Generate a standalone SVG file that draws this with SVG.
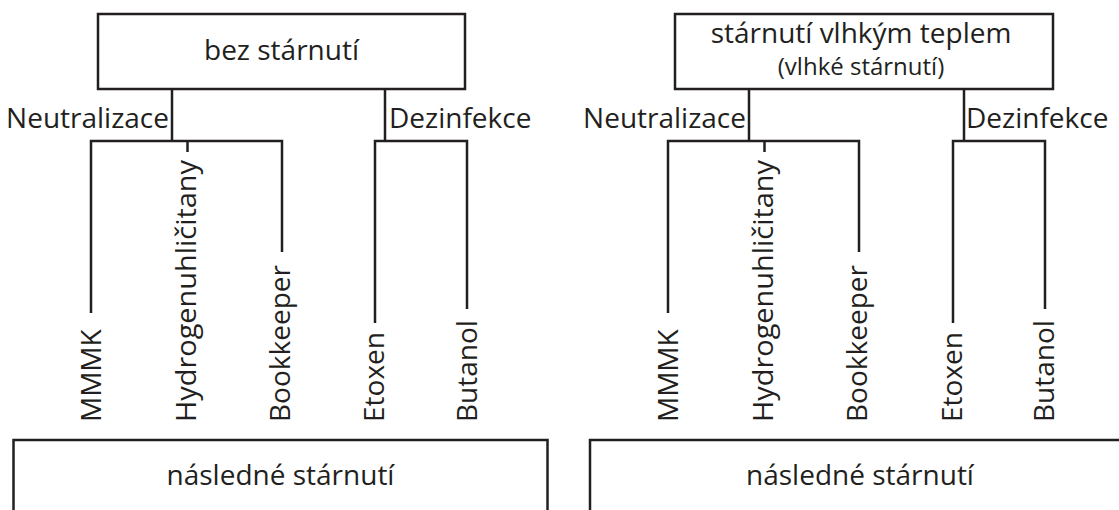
<svg xmlns="http://www.w3.org/2000/svg" width="1119" height="510" viewBox="0 0 1119 510">
  <style>
    .box { fill: #ffffff; stroke: #231f20; stroke-width: 2.5; }
    .ln { fill: none; stroke: #231f20; stroke-width: 2.5; stroke-linecap: butt; }
    .t { font-family: "Open Sans", "Noto Sans", "Liberation Sans", sans-serif; font-size: 28px; fill: #231f20; }
    .s { font-size: 24px; }
    .c { text-anchor: middle; }
    .e { text-anchor: end; }
  </style>
  <rect width="1119" height="510" fill="#ffffff"/>

  <g id="connectors">
    <!-- left half -->
    <path class="ln" d="M172 89 V141 M385 89 V141"/>
    <path class="ln" d="M91 313 V141 H282 V252 M187.5 141 V152"/>
    <path class="ln" d="M375 323 V141 H467 V309"/>
    <!-- right half -->
    <path class="ln" d="M749 89 V141 M964 89 V141"/>
    <path class="ln" d="M668 313 V141 H859 V252 M764.5 141 V152"/>
    <path class="ln" d="M953 323 V141 H1045 V309"/>
  </g>

  <g id="node-bez-starnuti">
    <rect class="box" x="98" y="14" width="367" height="75"/>
    <text class="t c" x="281.5" y="60">bez stárnutí</text>
  </g>
  <g id="node-vlhke-starnuti">
    <rect class="box" x="675" y="14" width="378" height="75"/>
    <text class="t c" x="861" y="43">stárnutí vlhkým teplem</text>
    <text class="t s c" x="861" y="75">(vlhké stárnutí)</text>
  </g>

  <g id="label-neutralizace-left"><text class="t e" x="169" y="128">Neutralizace</text></g>
  <g id="label-dezinfekce-left"><text class="t" x="389" y="128">Dezinfekce</text></g>
  <g id="label-neutralizace-right"><text class="t e" x="746" y="128">Neutralizace</text></g>
  <g id="label-dezinfekce-right"><text class="t" x="966" y="128">Dezinfekce</text></g>

  <g id="node-mmmk-left"><text class="t" transform="translate(101 422) rotate(-90)">MMMK</text></g>
  <g id="node-hydro-left"><text class="t" transform="translate(196 422) rotate(-90)" textLength="262" lengthAdjust="spacingAndGlyphs">Hydrogenuhličitany</text></g>
  <g id="node-bookkeeper-left"><text class="t" transform="translate(290 422) rotate(-90)">Bookkeeper</text></g>
  <g id="node-etoxen-left"><text class="t" transform="translate(384 422) rotate(-90)">Etoxen</text></g>
  <g id="node-butanol-left"><text class="t" transform="translate(477 422) rotate(-90)">Butanol</text></g>

  <g id="node-mmmk-right"><text class="t" transform="translate(678 422) rotate(-90)">MMMK</text></g>
  <g id="node-hydro-right"><text class="t" transform="translate(773 422) rotate(-90)" textLength="262" lengthAdjust="spacingAndGlyphs">Hydrogenuhličitany</text></g>
  <g id="node-bookkeeper-right"><text class="t" transform="translate(867 422) rotate(-90)">Bookkeeper</text></g>
  <g id="node-etoxen-right"><text class="t" transform="translate(962 422) rotate(-90)">Etoxen</text></g>
  <g id="node-butanol-right"><text class="t" transform="translate(1054 422) rotate(-90)">Butanol</text></g>

  <g id="node-nasledne-left">
    <rect class="box" x="13.5" y="440" width="534" height="90"/>
    <text class="t c" x="280.5" y="485">následné stárnutí</text>
  </g>
  <g id="node-nasledne-right">
    <rect class="box" x="590" y="440" width="540" height="90"/>
    <text class="t c" x="860" y="485">následné stárnutí</text>
  </g>
</svg>
